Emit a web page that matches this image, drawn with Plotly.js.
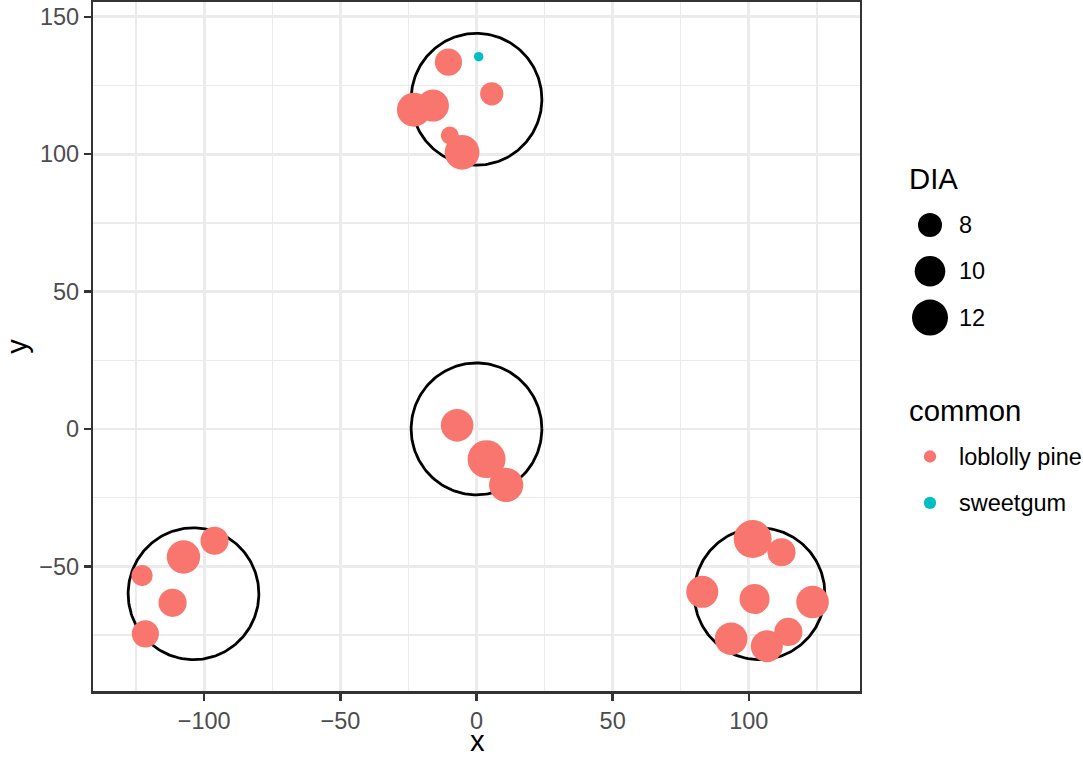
<!DOCTYPE html>
<html><head><meta charset="utf-8">
<script src="https://cdn.plot.ly/plotly-3.0.1.min.js"></script>
<style>html,body{margin:0;padding:0;background:#fff}#chart{width:1083px;height:759px}</style>
</head><body><div id="chart"></div>
<script>
// ---- data ----
const pineX   = [-10.3, 5.6, -23.0, -16.0, -9.8, -5.3, -7.1, 3.7, 10.9, -96.2, -107.6, -122.8, -111.6, -121.6, 101.4, 112.0, 82.9, 102.1, 123.4, 93.5, 114.5, 106.6];
const pineY   = [133.5, 122.0, 116.2, 117.7, 106.8, 100.7, 1.3, -11.0, -20.4, -40.7, -46.6, -53.4, -63.3, -74.6, -40.1, -44.9, -59.3, -61.9, -63.0, -76.4, -73.9, -79.1];
const pineDIA = [8.9, 7.8, 11.2, 10.5, 6.6, 11.5, 10.7, 12.8, 11.3, 9.2, 11.0, 7.3, 9.2, 8.9, 12.8, 9.2, 10.5, 9.8, 10.7, 10.7, 9.2, 10.5];
const gumX    = [0.8];
const gumY    = [135.5];
const gumDIA  = [5.3];
const plotCenterX = [0, 0, -103.92, 103.92];
const plotCenterY = [120, 0, -60, -60];
const plotRadius  = 24;
const sizeBreaks  = [8, 10, 12];
const speciesNames  = ['loblolly pine', 'sweetgum'];
const speciesColors = ['#F8766D', '#00BFC4'];
const xTicks = [-100, -50, 0, 50, 100];
const yTicks = [-50, 0, 50, 100, 150];
const xTitle = 'x', yTitle = 'y';

// ---- scales / helpers ----
const sizeOf = d => Math.sqrt(Math.max(180 * d - 864, 4)); // area-linear size scale (px diameter)
const FONT = '"Liberation Sans", Arial, Helvetica, sans-serif';

// circle outlines from plot centres and radius
const cx = [], cy = [];
plotCenterX.forEach((x0, i) => {
  const y0 = plotCenterY[i];
  for (let k = 0; k <= 180; k++) {
    const t = 2 * Math.PI * k / 180;
    cx.push(x0 + plotRadius * Math.cos(t));
    cy.push(y0 + plotRadius * Math.sin(t));
  }
  cx.push(null); cy.push(null);
});

// axis limits: extent of circles + 5% expansion
const xmin = Math.min(...plotCenterX) - plotRadius, xmax = Math.max(...plotCenterX) + plotRadius;
const ymin = Math.min(...plotCenterY) - plotRadius, ymax = Math.max(...plotCenterY) + plotRadius;
const xpad = (xmax - xmin) * 0.05, ypad = (ymax - ymin) * 0.05;

const W = 1083, H = 759;
const traces = [
  {type:'scatter', mode:'lines', x:cx, y:cy, line:{color:'#000', width:2.8}, hoverinfo:'skip', showlegend:false},
  {type:'scatter', mode:'markers', x:pineX, y:pineY, name:speciesNames[0], showlegend:false,
   marker:{color:speciesColors[0], size:pineDIA.map(sizeOf), line:{width:0}, opacity:1}},
  {type:'scatter', mode:'markers', x:gumX, y:gumY, name:speciesNames[1], showlegend:false,
   marker:{color:speciesColors[1], size:gumDIA.map(sizeOf), line:{width:0}, opacity:1}},
  // legend keys (drawn on auxiliary axes)
  {type:'scatter', mode:'markers', xaxis:'x2', yaxis:'y2', x:sizeBreaks.map(() => 0), y:sizeBreaks.map((b, i) => i),
   marker:{color:'#000000', size:sizeBreaks.map(sizeOf), line:{width:0}, opacity:1}, showlegend:false, hoverinfo:'skip'},
  {type:'scatter', mode:'markers', xaxis:'x2', yaxis:'y2', x:speciesNames.map(() => 0), y:speciesNames.map((s, i) => i + 5),
   marker:{color:speciesColors, size:12.3, line:{width:0}, opacity:1}, showlegend:false, hoverinfo:'skip'}
];

const annotations = [];
annotations.push({xref:'x2', yref:'y2', x:0, y:-1, xshift:-23, text:'DIA', showarrow:false, xanchor:'left', yanchor:'middle', font:{family:FONT, size:29.3, color:'#000'}});
sizeBreaks.forEach((b, i) => annotations.push({xref:'x2', yref:'y2', x:0, y:i, xshift:27, text:String(b), showarrow:false, xanchor:'left', yanchor:'middle', font:{family:FONT, size:23.5, color:'#000'}}));
annotations.push({xref:'x2', yref:'y2', x:0, y:4, xshift:-23, text:'common', showarrow:false, xanchor:'left', yanchor:'middle', font:{family:FONT, size:29.3, color:'#000'}});
speciesNames.forEach((s, i) => annotations.push({xref:'x2', yref:'y2', x:0, y:i + 5, xshift:27, text:s, showarrow:false, xanchor:'left', yanchor:'middle', font:{family:FONT, size:23.5, color:'#000'}}));
// x axis title, kept inside the figure's bottom edge
annotations.push({xref:'paper', yref:'paper', x:477 / W, y:0, text:xTitle, showarrow:false, xanchor:'center', yanchor:'bottom', font:{family:FONT, size:29.3, color:'#000'}});

const axisCommon = {
  showline:true, mirror:true, linecolor:'#333333', linewidth:2.5,
  ticks:'outside', ticklen:7, tickwidth:2.5, tickcolor:'#333333',
  tickfont:{family:FONT, size:23.5, color:'#4D4D4D'},
  showgrid:true, gridcolor:'#EBEBEB', gridwidth:2.7, zeroline:false,
  fixedrange:true
};
const rowTop = 225, rowGap = 46.3;

const layout = {
  width:W, height:H, margin:{l:0, r:0, t:0, b:0},
  paper_bgcolor:'#fff', plot_bgcolor:'#fff',
  font:{family:FONT},
  showlegend:false,
  xaxis: Object.assign({}, axisCommon, {
    domain:[93.3 / W, 859.7 / W], range:[xmin - xpad, xmax + xpad], anchor:'y',
    tickvals:xTicks,
    minor:{dtick:25, tick0:0, showgrid:true, gridcolor:'#EBEBEB', gridwidth:1.4, ticks:''}
  }),
  yaxis: Object.assign({}, axisCommon, {
    domain:[1 - 691 / H, 1 - 2 / H], range:[ymin - ypad, ymax + ypad], anchor:'x',
    tickvals:yTicks,
    minor:{dtick:25, tick0:0, showgrid:true, gridcolor:'#EBEBEB', gridwidth:1.4, ticks:''},
    title:{text:yTitle, font:{family:FONT, size:29.3, color:'#000'}}
  }),
  xaxis2:{domain:[900 / W, 960 / W], range:[-1, 1], visible:false, fixedrange:true, anchor:'y2'},
  yaxis2:{domain:[0, 1], range:[(H - rowTop) / rowGap, -rowTop / rowGap], visible:false, fixedrange:true, anchor:'x2'},
  annotations: annotations
};

Plotly.newPlot('chart', traces, layout, {staticPlot:true, displayModeBar:false});
</script></body></html>
